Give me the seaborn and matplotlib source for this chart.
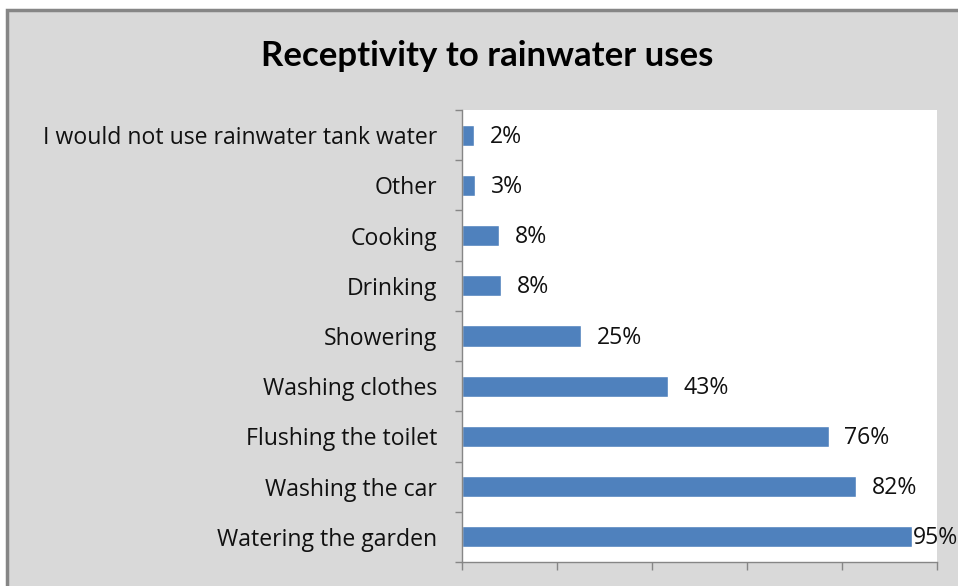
import seaborn as sns
import matplotlib.pyplot as plt
import pandas as pd
from matplotlib.patches import Rectangle

uses = ["I would not use rainwater tank water", "Other", "Cooking", "Drinking",
        "Showering", "Washing clothes", "Flushing the toilet",
        "Washing the car", "Watering the garden"]
share = [2.6, 2.8, 7.8, 8.2, 25, 43.3, 77.2, 83.0, 94.7]
share_labels = ["2%", "3%", "8%", "8%", "25%", "43%", "76%", "82%", "95%"]

df = pd.DataFrame({"use": uses, "share": share})

sns.set_style("white")
plt.rcParams["font.family"] = ["Open Sans", "DejaVu Sans"]

fig = plt.figure(figsize=(9.58, 5.86), dpi=100)
fig.patch.set_facecolor("white")

# grey chart frame (cropped at right/bottom like the reference)
fig.patches.append(Rectangle((7, -20), 1000, 586 - 10 + 20, transform=None,
                             facecolor="#d9d9d9", edgecolor="#868686",
                             linewidth=2.5, zorder=-10))

ax = fig.add_axes([462 / 958, 1 - 562 / 586, 475 / 958, 452 / 586])
ax.set_zorder(5)
ax.set_facecolor("white")

sns.barplot(data=df, x="share", y="use", orient="h", color="#4f81bd",
            width=0.42, saturation=1, ax=ax)

ax.set_xlim(0, 100)
ax.set_ylim(len(uses) - 0.5, -0.5)
ax.set_xticks(range(0, 101, 20))
ax.set_xticklabels([])
ax.set_yticks(range(len(uses)))
ax.set_yticklabels(uses, fontsize=16.6, color="#111111")
ax.set_yticks([i - 0.5 for i in range(len(uses) + 1)], minor=True)
ax.tick_params(axis="y", which="major", length=0, pad=18)
ax.tick_params(axis="y", which="minor", length=5, width=1, color="#868686",
               direction="out", left=True)
ax.tick_params(axis="x", length=6, width=1, color="#868686",
               direction="out", bottom=True)
ax.set_xlabel("")
ax.set_ylabel("")

for s in ["top", "right"]:
    ax.spines[s].set_visible(False)
for s in ["left", "bottom"]:
    ax.spines[s].set_color("#868686")
    ax.spines[s].set_linewidth(1)

for i, (v, lab) in enumerate(zip(share, share_labels)):
    x = min(v + 3.3, 95)
    ax.text(x, i + 0.03, lab, va="center", ha="left", fontsize=16.6,
            color="#111111", clip_on=False)

fig.text(487 / 958, 1 - 56 / 586, "Receptivity to rainwater uses",
         ha="center", va="center", fontsize=25, fontweight="bold",
         color="black", family=["Lato", "DejaVu Sans"])

fig.savefig("out.png", dpi=100, facecolor=fig.get_facecolor())
